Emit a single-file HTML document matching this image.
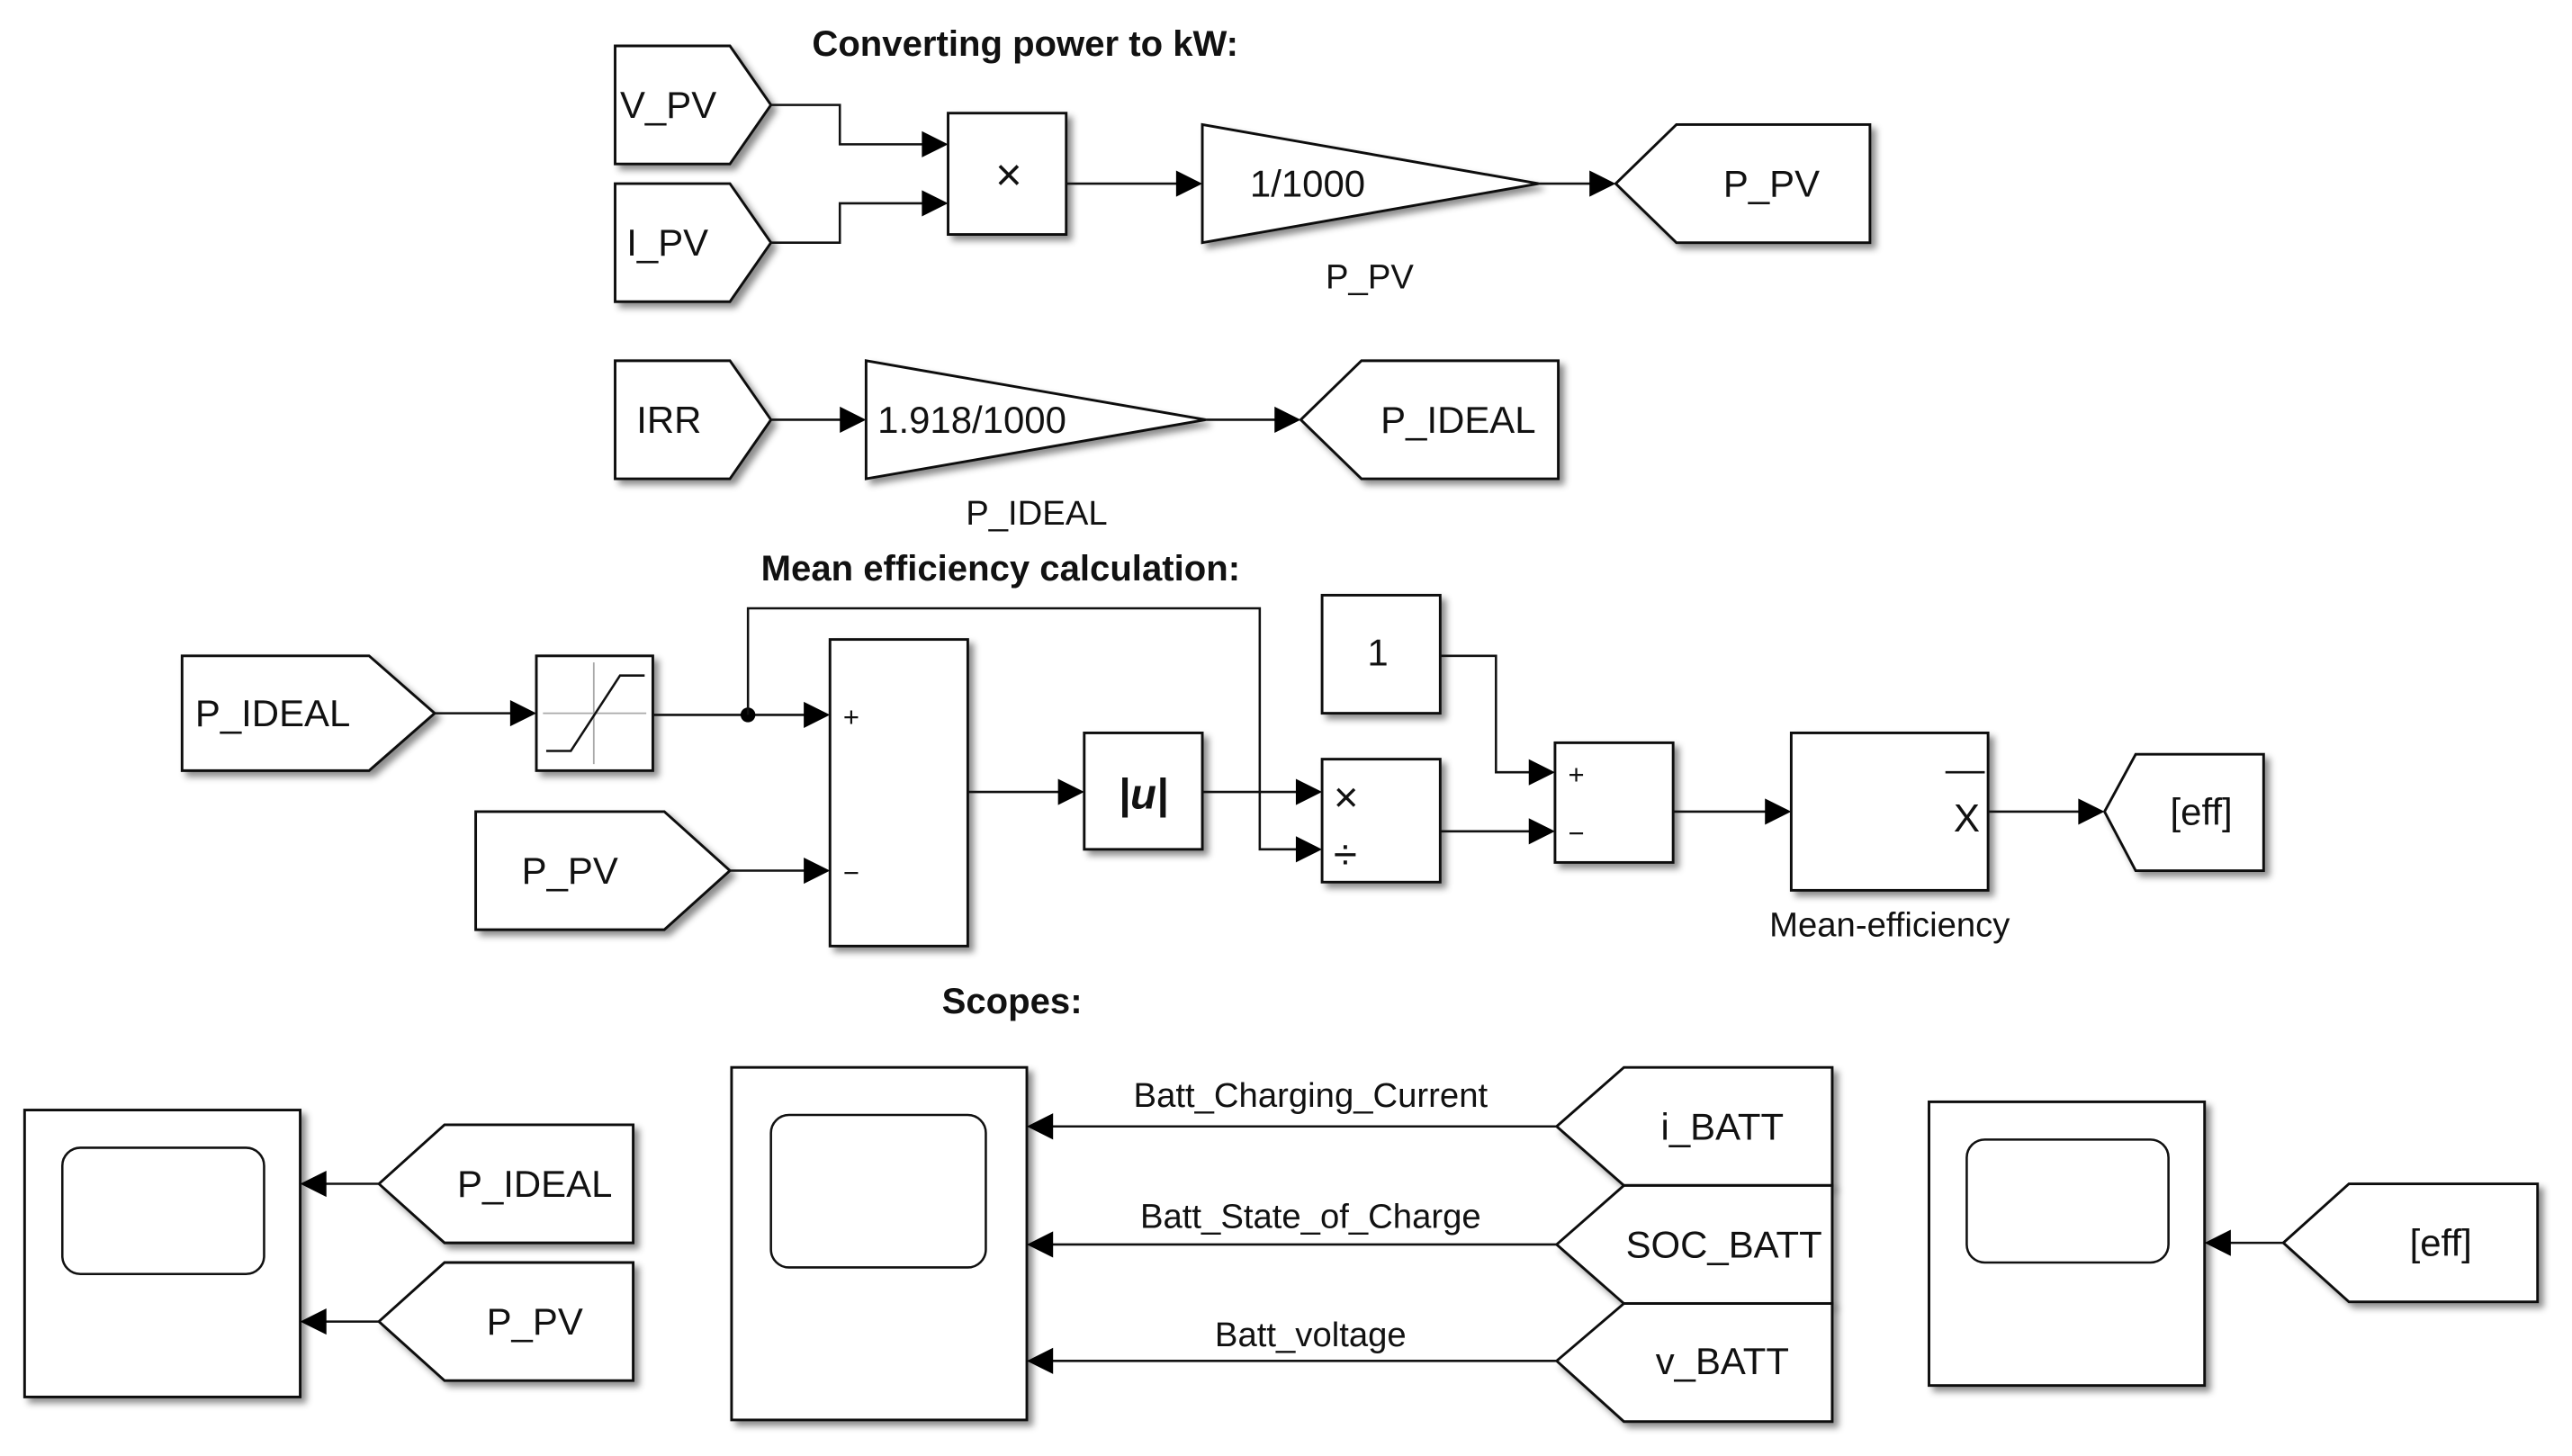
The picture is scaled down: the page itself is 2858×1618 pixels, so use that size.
<!DOCTYPE html>
<html><head><meta charset="utf-8"><style>
html,body{margin:0;padding:0;background:#fff;}
svg{display:block}
text{font-family:"Liberation Sans",Arial,sans-serif;fill:#111}
.b{fill:#fff;stroke:#111;stroke-width:1.6;filter:url(#sh)}
.l{fill:none;stroke:#111;stroke-width:1.4}
.a{fill:#000}
.t{font-size:23px}
.s{font-size:21px}
.h{font-size:22px;font-weight:bold}
</style></head><body>
<svg width="2858" height="1618" viewBox="0 0 1568 888" preserveAspectRatio="none" xmlns="http://www.w3.org/2000/svg">
<defs><filter id="sh" x="-10%" y="-10%" width="130%" height="130%"><feDropShadow dx="3" dy="3" stdDeviation="2" flood-color="#000" flood-opacity="0.45"/></filter></defs>

<text x="625" y="34" class="h" text-anchor="middle">Converting power to kW:</text>
<polygon class="b" points="375,28 445,28 470,64 445,100 375,100"/>
<text x="378" y="72" class="t">V_PV</text>
<polygon class="b" points="375,112 445,112 470,148 445,184 375,184"/>
<text x="382" y="156" class="t">I_PV</text>
<polyline class="l" points="470,64 512,64 512,88 566,88"/>
<polygon class="a" points="562,80 578,88 562,96"/>
<polyline class="l" points="470,148 512,148 512,124 566,124"/>
<polygon class="a" points="562,116 578,124 562,132"/>
<rect class="b" x="578" y="69" width="72" height="74"/>
<text x="615" y="116" font-size="28" text-anchor="middle">×</text>
<line class="l" x1="650" y1="112" x2="722" y2="112"/>
<polygon class="a" points="717,104 733,112 717,120"/>
<polygon class="b" points="733,76 938,112 733,148"/>
<text x="762" y="120" class="t">1/1000</text>
<text x="835" y="176" class="s" text-anchor="middle">P_PV</text>
<line class="l" x1="938" y1="112" x2="974" y2="112"/>
<polygon class="a" points="969,104 985,112 969,120"/>
<polygon class="b" points="985,112 1022,76 1140,76 1140,148 1022,148"/>
<text x="1080" y="120" class="t" text-anchor="middle">P_PV</text>

<polygon class="b" points="375,220 445,220 470,256 445,292 375,292"/>
<text x="388" y="264" class="t">IRR</text>
<line class="l" x1="470" y1="256" x2="518" y2="256"/>
<polygon class="a" points="512,248 528,256 512,264"/>
<polygon class="b" points="528,220 735,256 528,292"/>
<text x="535" y="264" class="t">1.918/1000</text>
<text x="632" y="320" class="s" text-anchor="middle">P_IDEAL</text>
<line class="l" x1="735" y1="256" x2="782" y2="256"/>
<polygon class="a" points="777,248 793,256 777,264"/>
<polygon class="b" points="793,256 830,220 950,220 950,292 830,292"/>
<text x="889" y="264" class="t" text-anchor="middle">P_IDEAL</text>

<text x="610" y="354" class="h" text-anchor="middle">Mean efficiency calculation:</text>
<polygon class="b" points="111,400 225,400 265,435 225,470 111,470"/>
<text x="119" y="443" class="t">P_IDEAL</text>
<line class="l" x1="265" y1="435" x2="316" y2="435"/>
<polygon class="a" points="311,427 327,435 311,443"/>
<rect class="b" x="327" y="400" width="71" height="70"/>
<line x1="331" y1="435" x2="394" y2="435" stroke="#aaa" stroke-width="1"/>
<line x1="362" y1="404" x2="362" y2="466" stroke="#aaa" stroke-width="1"/>
<polyline class="l" points="333,458 348,458 378,412 393,412"/>
<line class="l" x1="398" y1="436" x2="495" y2="436"/>
<polygon class="a" points="490,428 506,436 490,444"/>
<circle cx="456" cy="436" r="4.5" fill="#000"/>
<polyline class="l" points="456,436 456,371 768,371 768,518 795,518"/>
<polygon class="a" points="790,510 806,518 790,526"/>
<rect class="b" x="506" y="390" width="84" height="187"/>
<text x="514" y="443" font-size="17">+</text>
<text x="514" y="538" font-size="17">−</text>
<polygon class="b" points="290,495 405,495 445,531 405,567 290,567"/>
<text x="318" y="539" class="t">P_PV</text>
<line class="l" x1="445" y1="531" x2="495" y2="531"/>
<polygon class="a" points="490,523 506,531 490,539"/>
<line class="l" x1="590" y1="483" x2="650" y2="483"/>
<polygon class="a" points="645,475 661,483 645,491"/>
<rect class="b" x="661" y="447" width="72" height="71"/>
<text x="697" y="493" font-size="26" font-style="italic" font-weight="bold" font-family="Liberation Serif" text-anchor="middle">|u|</text>
<line class="l" x1="733" y1="483" x2="795" y2="483"/>
<polygon class="a" points="790,475 806,483 790,491"/>
<rect class="b" x="806" y="463" width="72" height="75"/>
<text x="813" y="495" font-size="26">×</text>
<text x="813" y="530" font-size="26">÷</text>
<rect class="b" x="806" y="363" width="72" height="72"/>
<text x="840" y="406" class="t" text-anchor="middle">1</text>
<polyline class="l" points="878,400 912,400 912,471 937,471"/>
<polygon class="a" points="932,463 948,471 932,479"/>
<line class="l" x1="878" y1="507" x2="937" y2="507"/>
<polygon class="a" points="932,499 948,507 932,515"/>
<rect class="b" x="948" y="453" width="72" height="73"/>
<text x="956" y="478" font-size="17">+</text>
<text x="956" y="514" font-size="17">−</text>
<line class="l" x1="1020" y1="495" x2="1081" y2="495"/>
<polygon class="a" points="1076,487 1092,495 1076,503"/>
<rect class="b" x="1092" y="447" width="120" height="96"/>
<line class="l" x1="1186" y1="471" x2="1210" y2="471"/>
<text x="1199" y="507" font-size="24" text-anchor="middle">X</text>
<text x="1152" y="571" class="s" text-anchor="middle">Mean-efficiency</text>
<line class="l" x1="1212" y1="495" x2="1272" y2="495"/>
<polygon class="a" points="1267,487 1283,495 1267,503"/>
<polygon class="b" points="1283,495 1302,460 1380,460 1380,531 1302,531"/>
<text x="1342" y="503" class="t" text-anchor="middle">[eff]</text>

<text x="617" y="618" class="h" text-anchor="middle">Scopes:</text>
<rect class="b" x="15" y="677" width="168" height="175"/>
<rect x="38" y="700" width="123" height="77" rx="11" fill="none" stroke="#111" stroke-width="1.4"/>
<polygon class="b" points="231,722 271,686 386,686 386,758 271,758"/>
<text x="326" y="730" class="t" text-anchor="middle">P_IDEAL</text>
<line class="l" x1="231" y1="722" x2="194" y2="722"/>
<polygon class="a" points="199,714 183,722 199,730"/>
<polygon class="b" points="231,806 271,770 386,770 386,842 271,842"/>
<text x="326" y="814" class="t" text-anchor="middle">P_PV</text>
<line class="l" x1="231" y1="806" x2="194" y2="806"/>
<polygon class="a" points="199,798 183,806 199,814"/>
<rect class="b" x="446" y="651" width="180" height="215"/>
<rect x="470" y="680" width="131" height="93" rx="11" fill="none" stroke="#111" stroke-width="1.4"/>
<polygon class="b" points="949,687 990,651 1117,651 1117,723 990,723"/>
<text x="1050" y="695" class="t" text-anchor="middle">i_BATT</text>
<line class="l" x1="949" y1="687" x2="637" y2="687"/>
<polygon class="a" points="642,679 626,687 642,695"/>
<text x="799" y="675" class="s" text-anchor="middle">Batt_Charging_Current</text>
<polygon class="b" points="949,759 990,723 1117,723 1117,795 990,795"/>
<text x="1051" y="767" class="t" text-anchor="middle">SOC_BATT</text>
<line class="l" x1="949" y1="759" x2="637" y2="759"/>
<polygon class="a" points="642,751 626,759 642,767"/>
<text x="799" y="749" class="s" text-anchor="middle">Batt_State_of_Charge</text>
<polygon class="b" points="949,830 990,795 1117,795 1117,867 990,867"/>
<text x="1050" y="838" class="t" text-anchor="middle">v_BATT</text>
<line class="l" x1="949" y1="830" x2="637" y2="830"/>
<polygon class="a" points="642,822 626,830 642,838"/>
<text x="799" y="821" class="s" text-anchor="middle">Batt_voltage</text>
<rect class="b" x="1176" y="672" width="168" height="173"/>
<rect x="1199" y="695" width="123" height="75" rx="11" fill="none" stroke="#111" stroke-width="1.4"/>
<polygon class="b" points="1392,758 1432,722 1547,722 1547,794 1432,794"/>
<text x="1488" y="766" class="t" text-anchor="middle">[eff]</text>
<line class="l" x1="1392" y1="758" x2="1355" y2="758"/>
<polygon class="a" points="1360,750 1344,758 1360,766"/>
</svg>
</body></html>
